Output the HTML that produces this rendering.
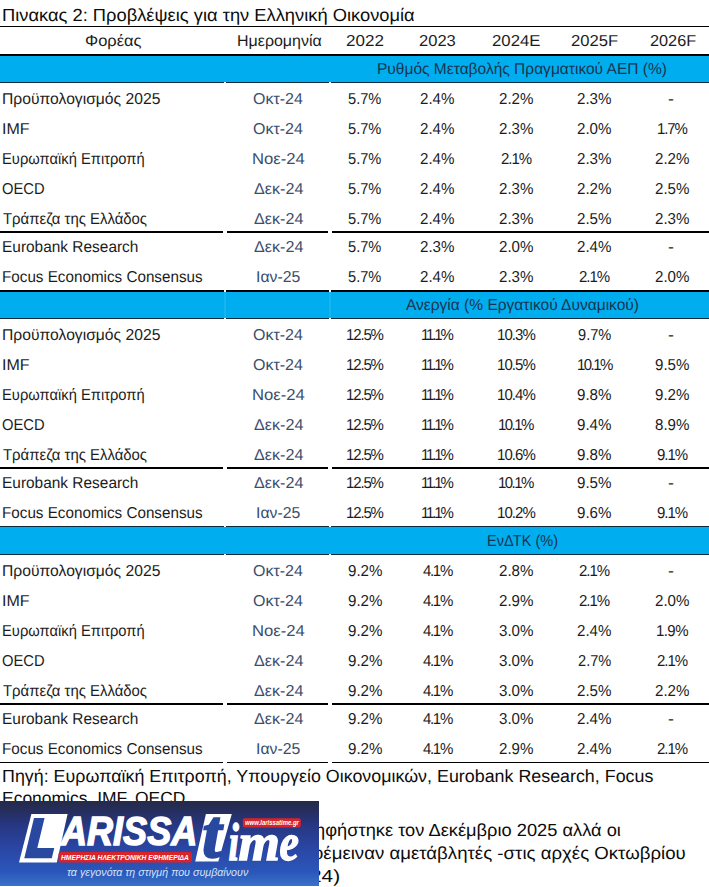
<!DOCTYPE html>
<html lang="el"><head><meta charset="utf-8"><title>Πίνακας 2: Προβλέψεις για την Ελληνική Οικονομία</title>
<style>
html,body{margin:0;padding:0;background:#fff;}
body{width:709px;height:887px;position:relative;overflow:hidden;font-family:"Liberation Sans",Arial,sans-serif;color:#1c1c1c;}
.t{position:absolute;white-space:nowrap;line-height:20px;height:20px;font-size:15.8px;transform-origin:0 0;}
.b{font-size:17.6px;color:#0c0c0c;}
.d{color:#3b4d6b;}
.h{color:#1a3350;}
.hl{position:absolute;left:0;width:709px;background:#000;}
.band{position:absolute;left:0;width:709px;background:#00aeef;}
.gap{position:absolute;}
.lg{position:absolute;left:0;top:801px;width:318.5px;height:84.6px;overflow:hidden;background:linear-gradient(to bottom,#252a47 0%,#252e5c 11%,#273885 30%,#2a46a4 56%,#2b57ba 84%,#3a72ca 100%);}
.lg svg{position:absolute;left:0;top:0;}
.w{position:absolute;white-space:nowrap;transform-origin:0 0;line-height:1;color:#fff;font-weight:bold;font-style:italic;}
.sf{font-family:"Liberation Serif","Times New Roman",serif;}

</style></head><body>
<div class="hl" style="top:26px;height:1px"></div>
<div class="hl" style="top:53.8px;height:2.4px"></div>
<div class="band" style="top:56px;height:27px"></div>
<div class="hl" style="top:82px;height:1px;background:#0b2c40"></div>
<div class="gap" style="left:224px;top:82px;width:2.2px;height:1.2px;background:#fff"></div>
<div class="gap" style="left:329px;top:82px;width:2.4px;height:1.2px;background:#fff"></div>
<div class="hl" style="top:230.5px;height:2.4px"></div>
<div class="gap" style="left:222.6px;top:230.2px;width:4px;height:3px;background:#fff"></div>
<div class="gap" style="left:327.5px;top:230.2px;width:4.1px;height:3px;background:#fff"></div>
<div class="hl" style="top:289.8px;height:2.4px"></div>
<div class="band" style="top:292px;height:27px"></div>
<div class="hl" style="top:318px;height:1px;background:#0b2c40"></div>
<div class="gap" style="left:224px;top:289.6px;width:2.2px;height:2.6px;background:#fff"></div>
<div class="gap" style="left:329px;top:289.6px;width:2.4px;height:2.6px;background:#fff"></div>
<div class="gap" style="left:224px;top:292px;width:2.2px;height:26px;background:rgba(255,255,255,0.09)"></div>
<div class="gap" style="left:329px;top:292px;width:2.4px;height:26px;background:rgba(255,255,255,0.09)"></div>
<div class="gap" style="left:224px;top:318px;width:2.2px;height:1.2px;background:#fff"></div>
<div class="gap" style="left:329px;top:318px;width:2.4px;height:1.2px;background:#fff"></div>
<div class="hl" style="top:466.5px;height:2.4px"></div>
<div class="gap" style="left:222.6px;top:466.2px;width:4px;height:3px;background:#fff"></div>
<div class="gap" style="left:327.5px;top:466.2px;width:4.1px;height:3px;background:#fff"></div>
<div class="band" style="top:526.6px;height:28.4px"></div>
<div class="hl" style="top:525.9px;height:1.2px;background:#0b2c40"></div>
<div class="hl" style="top:554px;height:1px;background:#0b2c40"></div>
<div class="gap" style="left:224px;top:525.6px;width:2.2px;height:1.8px;background:#fff"></div>
<div class="gap" style="left:329px;top:525.6px;width:2.4px;height:1.8px;background:#fff"></div>
<div class="gap" style="left:224px;top:554px;width:2.2px;height:1.2px;background:#fff"></div>
<div class="gap" style="left:329px;top:554px;width:2.4px;height:1.2px;background:#fff"></div>
<div class="hl" style="top:702.5px;height:2.4px"></div>
<div class="gap" style="left:222.6px;top:702.2px;width:4px;height:3px;background:#fff"></div>
<div class="gap" style="left:327.5px;top:702.2px;width:4.1px;height:3px;background:#fff"></div>
<div class="hl" style="top:762px;height:1.2px"></div>
<div class="gap" style="left:222.6px;top:761.8px;width:4px;height:1.8px;background:#fff"></div>
<div class="gap" style="left:327.5px;top:761.8px;width:4.1px;height:1.8px;background:#fff"></div>
<div class="t b" style="left:2.2px;top:5.4px;transform:matrix(1.041,0,.0005,1,0,0)">Πινακας 2: Προβλέψεις για την Ελληνική Οικονομία</div>
<div class="t" style="left:84.6px;top:31.3px;transform:matrix(1.043,0,.0005,1,0,0)">Φορέας</div>
<div class="t" style="left:236.7px;top:31.3px;transform:matrix(1.012,0,.0005,1,0,0)">Ημερομηνία</div>
<div class="t" style="left:346.4px;top:31.3px;transform:matrix(1.079,0,.0005,1,0,0)">2022</div>
<div class="t" style="left:419.2px;top:31.3px;transform:matrix(1.047,0,.0005,1,0,0)">2023</div>
<div class="t" style="left:492.2px;top:31.3px;transform:matrix(1.061,0,.0005,1,0,0)">2024E</div>
<div class="t" style="left:571.3px;top:31.3px;transform:matrix(1.053,0,.0005,1,0,0)">2025F</div>
<div class="t" style="left:649.8px;top:31.3px;transform:matrix(1.030,0,.0005,1,0,0)">2026F</div>
<div class="t h" style="left:377.0px;top:59.3px;transform:matrix(0.983,0,.0005,1,0,0)">Ρυθμός Μεταβολής Πραγματικού ΑΕΠ (%)</div>
<div class="t" style="left:2.2px;top:89.3px;transform:matrix(0.992,0,.0005,1,0,0)">Προϋπολογισμός 2025</div>
<div class="t d" style="left:252.7px;top:89.3px;transform:matrix(1.013,0,.0005,1,0,0)">Οκτ-24</div>
<div class="t" style="left:348.2px;top:89.3px;transform:matrix(0.926,0,.0005,1,0,0)">5.7%</div>
<div class="t" style="left:420.3px;top:89.3px;transform:matrix(0.957,0,.0005,1,0,0)">2.4%</div>
<div class="t" style="left:498.9px;top:89.3px;transform:matrix(0.957,0,.0005,1,0,0)">2.2%</div>
<div class="t" style="left:577.3px;top:89.3px;transform:matrix(0.957,0,.0005,1,0,0)">2.3%</div>
<div class="t" style="left:668.3px;top:89.3px;transform:matrix(1.125,0,.0005,1,0,0)">-</div>
<div class="t" style="left:2.2px;top:119.1px;transform:matrix(1.015,0,.0005,1,0,0)">IMF</div>
<div class="t d" style="left:252.7px;top:119.1px;transform:matrix(1.013,0,.0005,1,0,0)">Οκτ-24</div>
<div class="t" style="left:348.2px;top:119.1px;transform:matrix(0.926,0,.0005,1,0,0)">5.7%</div>
<div class="t" style="left:420.3px;top:119.1px;transform:matrix(0.957,0,.0005,1,0,0)">2.4%</div>
<div class="t" style="left:498.9px;top:119.1px;transform:matrix(0.957,0,.0005,1,0,0)">2.3%</div>
<div class="t" style="left:577.3px;top:119.1px;transform:matrix(0.957,0,.0005,1,0,0)">2.0%</div>
<div class="t" style="left:657.0px;top:119.1px;letter-spacing:-1.14px;transform:matrix(0.950,0,.0005,1,0,0)">1.7%</div>
<div class="t" style="left:2.3px;top:149.2px;transform:matrix(0.932,0,.0005,1,0,0)">Ευρωπαϊκή Επιτροπή</div>
<div class="t d" style="left:251.6px;top:149.2px;transform:matrix(1.054,0,.0005,1,0,0)">Νοε-24</div>
<div class="t" style="left:348.2px;top:149.2px;transform:matrix(0.926,0,.0005,1,0,0)">5.7%</div>
<div class="t" style="left:420.3px;top:149.2px;transform:matrix(0.957,0,.0005,1,0,0)">2.4%</div>
<div class="t" style="left:500.6px;top:149.2px;letter-spacing:-1.07px;transform:matrix(0.950,0,.0005,1,0,0)">2.1%</div>
<div class="t" style="left:577.3px;top:149.2px;transform:matrix(0.957,0,.0005,1,0,0)">2.3%</div>
<div class="t" style="left:655.3px;top:149.2px;transform:matrix(0.957,0,.0005,1,0,0)">2.2%</div>
<div class="t" style="left:2.3px;top:179.0px;transform:matrix(0.934,0,.0005,1,0,0)">OECD</div>
<div class="t d" style="left:253.5px;top:179.0px;transform:matrix(1.021,0,.0005,1,0,0)">Δεκ-24</div>
<div class="t" style="left:348.2px;top:179.0px;transform:matrix(0.926,0,.0005,1,0,0)">5.7%</div>
<div class="t" style="left:420.3px;top:179.0px;transform:matrix(0.957,0,.0005,1,0,0)">2.4%</div>
<div class="t" style="left:498.9px;top:179.0px;transform:matrix(0.957,0,.0005,1,0,0)">2.3%</div>
<div class="t" style="left:577.3px;top:179.0px;transform:matrix(0.957,0,.0005,1,0,0)">2.2%</div>
<div class="t" style="left:655.3px;top:179.0px;transform:matrix(0.957,0,.0005,1,0,0)">2.5%</div>
<div class="t" style="left:3.2px;top:208.6px;transform:matrix(0.944,0,.0005,1,0,0)">Τράπεζα της Ελλάδος</div>
<div class="t d" style="left:253.5px;top:208.6px;transform:matrix(1.021,0,.0005,1,0,0)">Δεκ-24</div>
<div class="t" style="left:348.2px;top:208.6px;transform:matrix(0.926,0,.0005,1,0,0)">5.7%</div>
<div class="t" style="left:420.3px;top:208.6px;transform:matrix(0.957,0,.0005,1,0,0)">2.4%</div>
<div class="t" style="left:498.9px;top:208.6px;transform:matrix(0.957,0,.0005,1,0,0)">2.3%</div>
<div class="t" style="left:577.3px;top:208.6px;transform:matrix(0.957,0,.0005,1,0,0)">2.5%</div>
<div class="t" style="left:655.3px;top:208.6px;transform:matrix(0.957,0,.0005,1,0,0)">2.3%</div>
<div class="t" style="left:2.2px;top:237.0px;transform:matrix(0.977,0,.0005,1,0,0)">Eurobank Research</div>
<div class="t d" style="left:253.5px;top:237.0px;transform:matrix(1.021,0,.0005,1,0,0)">Δεκ-24</div>
<div class="t" style="left:348.2px;top:237.0px;transform:matrix(0.926,0,.0005,1,0,0)">5.7%</div>
<div class="t" style="left:420.3px;top:237.0px;transform:matrix(0.957,0,.0005,1,0,0)">2.3%</div>
<div class="t" style="left:498.9px;top:237.0px;transform:matrix(0.957,0,.0005,1,0,0)">2.0%</div>
<div class="t" style="left:577.3px;top:237.0px;transform:matrix(0.957,0,.0005,1,0,0)">2.4%</div>
<div class="t" style="left:668.3px;top:237.0px;transform:matrix(1.125,0,.0005,1,0,0)">-</div>
<div class="t" style="left:2.2px;top:266.8px;transform:matrix(0.964,0,.0005,1,0,0)">Focus Economics Consensus</div>
<div class="t d" style="left:255.5px;top:266.8px;transform:matrix(1.000,0,.0005,1,0,0)">Ιαν-25</div>
<div class="t" style="left:348.2px;top:266.8px;transform:matrix(0.926,0,.0005,1,0,0)">5.7%</div>
<div class="t" style="left:420.3px;top:266.8px;transform:matrix(0.957,0,.0005,1,0,0)">2.4%</div>
<div class="t" style="left:498.9px;top:266.8px;transform:matrix(0.957,0,.0005,1,0,0)">2.3%</div>
<div class="t" style="left:578.9px;top:266.8px;letter-spacing:-1.07px;transform:matrix(0.950,0,.0005,1,0,0)">2.1%</div>
<div class="t" style="left:655.3px;top:266.8px;transform:matrix(0.957,0,.0005,1,0,0)">2.0%</div>
<div class="t h" style="left:406.0px;top:295.3px;transform:matrix(0.983,0,.0005,1,0,0)">Ανεργία (% Εργατικού Δυναμικού)</div>
<div class="t" style="left:2.2px;top:325.3px;transform:matrix(0.992,0,.0005,1,0,0)">Προϋπολογισμός 2025</div>
<div class="t d" style="left:252.7px;top:325.3px;transform:matrix(1.013,0,.0005,1,0,0)">Οκτ-24</div>
<div class="t" style="left:346.2px;top:325.3px;letter-spacing:-1.22px;transform:matrix(0.950,0,.0005,1,0,0)">12.5%</div>
<div class="t" style="left:421.4px;top:325.3px;letter-spacing:-2.24px;transform:matrix(0.950,0,.0005,1,0,0)">11.1%</div>
<div class="t" style="left:497.1px;top:325.3px;letter-spacing:-0.99px;transform:matrix(0.950,0,.0005,1,0,0)">10.3%</div>
<div class="t" style="left:577.9px;top:325.3px;transform:matrix(0.926,0,.0005,1,0,0)">9.7%</div>
<div class="t" style="left:668.3px;top:325.3px;transform:matrix(1.125,0,.0005,1,0,0)">-</div>
<div class="t" style="left:2.2px;top:355.1px;transform:matrix(1.015,0,.0005,1,0,0)">IMF</div>
<div class="t d" style="left:252.7px;top:355.1px;transform:matrix(1.013,0,.0005,1,0,0)">Οκτ-24</div>
<div class="t" style="left:346.2px;top:355.1px;letter-spacing:-1.22px;transform:matrix(0.950,0,.0005,1,0,0)">12.5%</div>
<div class="t" style="left:421.4px;top:355.1px;letter-spacing:-2.24px;transform:matrix(0.950,0,.0005,1,0,0)">11.1%</div>
<div class="t" style="left:497.1px;top:355.1px;letter-spacing:-0.99px;transform:matrix(0.950,0,.0005,1,0,0)">10.5%</div>
<div class="t" style="left:576.7px;top:355.1px;letter-spacing:-1.62px;transform:matrix(0.950,0,.0005,1,0,0)">10.1%</div>
<div class="t" style="left:655.3px;top:355.1px;transform:matrix(0.957,0,.0005,1,0,0)">9.5%</div>
<div class="t" style="left:2.3px;top:385.2px;transform:matrix(0.932,0,.0005,1,0,0)">Ευρωπαϊκή Επιτροπή</div>
<div class="t d" style="left:251.6px;top:385.2px;transform:matrix(1.054,0,.0005,1,0,0)">Νοε-24</div>
<div class="t" style="left:346.2px;top:385.2px;letter-spacing:-1.22px;transform:matrix(0.950,0,.0005,1,0,0)">12.5%</div>
<div class="t" style="left:421.4px;top:385.2px;letter-spacing:-2.24px;transform:matrix(0.950,0,.0005,1,0,0)">11.1%</div>
<div class="t" style="left:497.1px;top:385.2px;letter-spacing:-0.99px;transform:matrix(0.950,0,.0005,1,0,0)">10.4%</div>
<div class="t" style="left:577.3px;top:385.2px;transform:matrix(0.957,0,.0005,1,0,0)">9.8%</div>
<div class="t" style="left:655.3px;top:385.2px;transform:matrix(0.957,0,.0005,1,0,0)">9.2%</div>
<div class="t" style="left:2.3px;top:415.0px;transform:matrix(0.934,0,.0005,1,0,0)">OECD</div>
<div class="t d" style="left:253.5px;top:415.0px;transform:matrix(1.021,0,.0005,1,0,0)">Δεκ-24</div>
<div class="t" style="left:346.2px;top:415.0px;letter-spacing:-1.22px;transform:matrix(0.950,0,.0005,1,0,0)">12.5%</div>
<div class="t" style="left:421.4px;top:415.0px;letter-spacing:-2.24px;transform:matrix(0.950,0,.0005,1,0,0)">11.1%</div>
<div class="t" style="left:498.3px;top:415.0px;letter-spacing:-1.62px;transform:matrix(0.950,0,.0005,1,0,0)">10.1%</div>
<div class="t" style="left:577.3px;top:415.0px;transform:matrix(0.957,0,.0005,1,0,0)">9.4%</div>
<div class="t" style="left:655.3px;top:415.0px;transform:matrix(0.957,0,.0005,1,0,0)">8.9%</div>
<div class="t" style="left:3.2px;top:444.6px;transform:matrix(0.944,0,.0005,1,0,0)">Τράπεζα της Ελλάδος</div>
<div class="t d" style="left:253.5px;top:444.6px;transform:matrix(1.021,0,.0005,1,0,0)">Δεκ-24</div>
<div class="t" style="left:346.2px;top:444.6px;letter-spacing:-1.22px;transform:matrix(0.950,0,.0005,1,0,0)">12.5%</div>
<div class="t" style="left:421.4px;top:444.6px;letter-spacing:-2.24px;transform:matrix(0.950,0,.0005,1,0,0)">11.1%</div>
<div class="t" style="left:497.1px;top:444.6px;letter-spacing:-0.99px;transform:matrix(0.950,0,.0005,1,0,0)">10.6%</div>
<div class="t" style="left:577.3px;top:444.6px;transform:matrix(0.957,0,.0005,1,0,0)">9.8%</div>
<div class="t" style="left:656.9px;top:444.6px;letter-spacing:-1.07px;transform:matrix(0.950,0,.0005,1,0,0)">9.1%</div>
<div class="t" style="left:2.2px;top:473.0px;transform:matrix(0.977,0,.0005,1,0,0)">Eurobank Research</div>
<div class="t d" style="left:253.5px;top:473.0px;transform:matrix(1.021,0,.0005,1,0,0)">Δεκ-24</div>
<div class="t" style="left:346.2px;top:473.0px;letter-spacing:-1.22px;transform:matrix(0.950,0,.0005,1,0,0)">12.5%</div>
<div class="t" style="left:421.4px;top:473.0px;letter-spacing:-2.24px;transform:matrix(0.950,0,.0005,1,0,0)">11.1%</div>
<div class="t" style="left:498.3px;top:473.0px;letter-spacing:-1.62px;transform:matrix(0.950,0,.0005,1,0,0)">10.1%</div>
<div class="t" style="left:577.3px;top:473.0px;transform:matrix(0.957,0,.0005,1,0,0)">9.5%</div>
<div class="t" style="left:668.3px;top:473.0px;transform:matrix(1.125,0,.0005,1,0,0)">-</div>
<div class="t" style="left:2.2px;top:502.8px;transform:matrix(0.964,0,.0005,1,0,0)">Focus Economics Consensus</div>
<div class="t d" style="left:255.5px;top:502.8px;transform:matrix(1.000,0,.0005,1,0,0)">Ιαν-25</div>
<div class="t" style="left:346.2px;top:502.8px;letter-spacing:-1.22px;transform:matrix(0.950,0,.0005,1,0,0)">12.5%</div>
<div class="t" style="left:421.4px;top:502.8px;letter-spacing:-2.24px;transform:matrix(0.950,0,.0005,1,0,0)">11.1%</div>
<div class="t" style="left:497.1px;top:502.8px;letter-spacing:-0.99px;transform:matrix(0.950,0,.0005,1,0,0)">10.2%</div>
<div class="t" style="left:577.3px;top:502.8px;transform:matrix(0.957,0,.0005,1,0,0)">9.6%</div>
<div class="t" style="left:656.9px;top:502.8px;letter-spacing:-1.07px;transform:matrix(0.950,0,.0005,1,0,0)">9.1%</div>
<div class="t h" style="left:486.6px;top:531.3px;transform:matrix(0.920,0,.0005,1,0,0)">ΕνΔΤΚ (%)</div>
<div class="t" style="left:2.2px;top:561.3px;transform:matrix(0.992,0,.0005,1,0,0)">Προϋπολογισμός 2025</div>
<div class="t d" style="left:252.7px;top:561.3px;transform:matrix(1.013,0,.0005,1,0,0)">Οκτ-24</div>
<div class="t" style="left:347.6px;top:561.3px;transform:matrix(0.957,0,.0005,1,0,0)">9.2%</div>
<div class="t" style="left:422.9px;top:561.3px;letter-spacing:-1.40px;transform:matrix(0.950,0,.0005,1,0,0)">4.1%</div>
<div class="t" style="left:498.9px;top:561.3px;transform:matrix(0.957,0,.0005,1,0,0)">2.8%</div>
<div class="t" style="left:578.9px;top:561.3px;letter-spacing:-1.07px;transform:matrix(0.950,0,.0005,1,0,0)">2.1%</div>
<div class="t" style="left:668.3px;top:561.3px;transform:matrix(1.125,0,.0005,1,0,0)">-</div>
<div class="t" style="left:2.2px;top:591.1px;transform:matrix(1.015,0,.0005,1,0,0)">IMF</div>
<div class="t d" style="left:252.7px;top:591.1px;transform:matrix(1.013,0,.0005,1,0,0)">Οκτ-24</div>
<div class="t" style="left:347.6px;top:591.1px;transform:matrix(0.957,0,.0005,1,0,0)">9.2%</div>
<div class="t" style="left:422.9px;top:591.1px;letter-spacing:-1.40px;transform:matrix(0.950,0,.0005,1,0,0)">4.1%</div>
<div class="t" style="left:498.9px;top:591.1px;transform:matrix(0.957,0,.0005,1,0,0)">2.9%</div>
<div class="t" style="left:578.9px;top:591.1px;letter-spacing:-1.07px;transform:matrix(0.950,0,.0005,1,0,0)">2.1%</div>
<div class="t" style="left:655.3px;top:591.1px;transform:matrix(0.957,0,.0005,1,0,0)">2.0%</div>
<div class="t" style="left:2.3px;top:621.2px;transform:matrix(0.932,0,.0005,1,0,0)">Ευρωπαϊκή Επιτροπή</div>
<div class="t d" style="left:251.6px;top:621.2px;transform:matrix(1.054,0,.0005,1,0,0)">Νοε-24</div>
<div class="t" style="left:347.6px;top:621.2px;transform:matrix(0.957,0,.0005,1,0,0)">9.2%</div>
<div class="t" style="left:422.9px;top:621.2px;letter-spacing:-1.40px;transform:matrix(0.950,0,.0005,1,0,0)">4.1%</div>
<div class="t" style="left:498.9px;top:621.2px;transform:matrix(0.957,0,.0005,1,0,0)">3.0%</div>
<div class="t" style="left:577.3px;top:621.2px;transform:matrix(0.957,0,.0005,1,0,0)">2.4%</div>
<div class="t" style="left:656.3px;top:621.2px;letter-spacing:-0.61px;transform:matrix(0.950,0,.0005,1,0,0)">1.9%</div>
<div class="t" style="left:2.3px;top:651.0px;transform:matrix(0.934,0,.0005,1,0,0)">OECD</div>
<div class="t d" style="left:253.5px;top:651.0px;transform:matrix(1.021,0,.0005,1,0,0)">Δεκ-24</div>
<div class="t" style="left:347.6px;top:651.0px;transform:matrix(0.957,0,.0005,1,0,0)">9.2%</div>
<div class="t" style="left:422.9px;top:651.0px;letter-spacing:-1.40px;transform:matrix(0.950,0,.0005,1,0,0)">4.1%</div>
<div class="t" style="left:498.9px;top:651.0px;transform:matrix(0.957,0,.0005,1,0,0)">3.0%</div>
<div class="t" style="left:577.9px;top:651.0px;transform:matrix(0.926,0,.0005,1,0,0)">2.7%</div>
<div class="t" style="left:656.9px;top:651.0px;letter-spacing:-1.07px;transform:matrix(0.950,0,.0005,1,0,0)">2.1%</div>
<div class="t" style="left:3.2px;top:680.6px;transform:matrix(0.944,0,.0005,1,0,0)">Τράπεζα της Ελλάδος</div>
<div class="t d" style="left:253.5px;top:680.6px;transform:matrix(1.021,0,.0005,1,0,0)">Δεκ-24</div>
<div class="t" style="left:347.6px;top:680.6px;transform:matrix(0.957,0,.0005,1,0,0)">9.2%</div>
<div class="t" style="left:422.9px;top:680.6px;letter-spacing:-1.40px;transform:matrix(0.950,0,.0005,1,0,0)">4.1%</div>
<div class="t" style="left:498.9px;top:680.6px;transform:matrix(0.957,0,.0005,1,0,0)">3.0%</div>
<div class="t" style="left:577.3px;top:680.6px;transform:matrix(0.957,0,.0005,1,0,0)">2.5%</div>
<div class="t" style="left:655.3px;top:680.6px;transform:matrix(0.957,0,.0005,1,0,0)">2.2%</div>
<div class="t" style="left:2.2px;top:709.0px;transform:matrix(0.977,0,.0005,1,0,0)">Eurobank Research</div>
<div class="t d" style="left:253.5px;top:709.0px;transform:matrix(1.021,0,.0005,1,0,0)">Δεκ-24</div>
<div class="t" style="left:347.6px;top:709.0px;transform:matrix(0.957,0,.0005,1,0,0)">9.2%</div>
<div class="t" style="left:422.9px;top:709.0px;letter-spacing:-1.40px;transform:matrix(0.950,0,.0005,1,0,0)">4.1%</div>
<div class="t" style="left:498.9px;top:709.0px;transform:matrix(0.957,0,.0005,1,0,0)">3.0%</div>
<div class="t" style="left:577.3px;top:709.0px;transform:matrix(0.957,0,.0005,1,0,0)">2.4%</div>
<div class="t" style="left:668.3px;top:709.0px;transform:matrix(1.125,0,.0005,1,0,0)">-</div>
<div class="t" style="left:2.2px;top:738.8px;transform:matrix(0.964,0,.0005,1,0,0)">Focus Economics Consensus</div>
<div class="t d" style="left:255.5px;top:738.8px;transform:matrix(1.000,0,.0005,1,0,0)">Ιαν-25</div>
<div class="t" style="left:347.6px;top:738.8px;transform:matrix(0.957,0,.0005,1,0,0)">9.2%</div>
<div class="t" style="left:422.9px;top:738.8px;letter-spacing:-1.40px;transform:matrix(0.950,0,.0005,1,0,0)">4.1%</div>
<div class="t" style="left:498.9px;top:738.8px;transform:matrix(0.957,0,.0005,1,0,0)">2.9%</div>
<div class="t" style="left:577.3px;top:738.8px;transform:matrix(0.957,0,.0005,1,0,0)">2.4%</div>
<div class="t" style="left:656.9px;top:738.8px;letter-spacing:-1.07px;transform:matrix(0.950,0,.0005,1,0,0)">2.1%</div>
<div class="t b" style="left:2.2px;top:766.2px;transform:matrix(1.015,0,.0005,1,0,0)">Πηγή: Ευρωπαϊκή Επιτροπή, Υπουργείο Οικονομικών, Eurobank Research, Focus</div>
<div class="t b" style="left:2.2px;top:788.4px;transform:matrix(0.993,0,.0005,1,0,0)">Economics, IMF, OECD</div>
<div class="t b" style="left:315.3px;top:819.6px;transform:matrix(1.038,0,.0005,1,0,0)">ηφήστηκε τον Δεκέμβριο 2025 αλλά οι</div>
<div class="t b" style="left:313.4px;top:842.5px;transform:matrix(1.059,0,.0005,1,0,0)">οέμειναν αμετάβλητές -στις αρχές Οκτωβρίου</div>
<div class="t b" style="left:310.3px;top:866.1px;transform:matrix(1.183,0,.0005,1,0,0)">24)</div>
<div class="lg">
<svg width="319" height="85" viewBox="0 801 319 85">
<polygon points="31.4,814 67.6,814 56.8,862.6 19,862.6" fill="#fff"/>
<polygon points="205.9,814 231.8,814 218.3,861.4 195.2,861.4" fill="#fff"/>
<rect x="58.6" y="852" width="133.4" height="10.4" rx="2" fill="#d9232b"/>
<rect x="242.8" y="818.3" width="58" height="9.2" rx="2" fill="#d9232b"/>
<text id="lL" x="0" y="0" transform="translate(26,855.8) skewX(-4) scale(0.88,1)" font-family="Liberation Sans, Arial, sans-serif" font-weight="bold" font-style="italic" font-size="52.2" fill="#2948a0" stroke="#2948a0" stroke-width="4.4" stroke-linejoin="miter">L</text>
<text id="lm" y="860.4" font-family="Liberation Serif, Times New Roman, serif" font-weight="bold" font-style="italic" font-size="53.5" fill="#fff" stroke="#fff" stroke-width="1.4"><tspan x="228.6" textLength="10.4" lengthAdjust="spacingAndGlyphs">i</tspan><tspan x="238.6" textLength="41.4" lengthAdjust="spacingAndGlyphs">m</tspan><tspan x="279.6" textLength="19.4" lengthAdjust="spacingAndGlyphs">e</tspan></text>
</svg>
<div class="w" id="lA" style="left:60.6px;top:10.2px;font-size:40.4px;transform:scaleX(0.893);-webkit-text-stroke:1.4px #fff;">ARISSA</div>
<div class="w" id="l1" style="left:61.3px;top:52.8px;font-size:7.3px;transform:scaleX(0.92);">ΗΜΕΡΗΣΙΑ ΗΛΕΚΤΡΟΝΙΚΗ ΕΦΗΜΕΡΙΔΑ</div>
<div class="w sf" id="lt" style="left:202.6px;top:-0.4px;font-size:67.5px;color:#2948a0;-webkit-text-stroke:2.4px #2948a0;">t</div>
<div class="w" id="l2" style="left:245.4px;top:18.7px;font-size:6.6px;transform:scaleX(0.9);">www.larissatime.gr</div>
<div class="w" id="l3" style="left:67px;top:66px;font-size:10.6px;font-weight:normal;color:#d3e3fa;transform:scaleX(1.01);">τα γεγονότα τη στιγμή που συμβαίνουν</div>
</div>

</body></html>
